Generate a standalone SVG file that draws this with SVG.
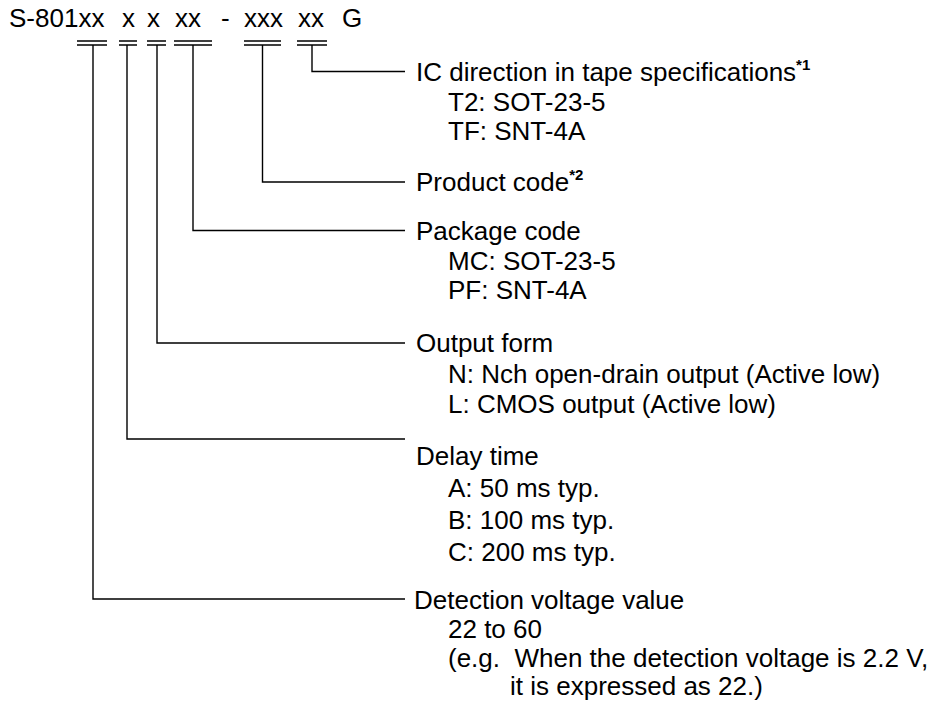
<svg xmlns="http://www.w3.org/2000/svg" width="950" height="711" viewBox="0 0 950 711">
<style>
text{font-family:"Liberation Sans",Arial,sans-serif;font-size:26px;fill:#000}
.sup{font-size:15px;font-weight:bold}
.ln{stroke:#000;stroke-width:1.4;fill:none}
</style>
<rect width="950" height="711" fill="#fff"/>
<g id="title">
<text y="27"><tspan x="9">S-801xx</tspan><tspan x="122">x</tspan><tspan x="147">x</tspan><tspan x="175">xx</tspan><tspan x="221">-</tspan><tspan x="244">xxx</tspan><tspan x="298">xx</tspan><tspan x="342">G</tspan></text>
</g>
<g id="connectors" class="ln">
<path d="M77 41H107M77 45H107M119 41H137M119 45H137M147 41H166M147 45H166M174 41H212M174 45H212M244 41H281M244 45H281M297 41H327M297 45H327"/>
<path d="M312 45V71.5H405"/>
<path d="M262.5 45V182H405"/>
<path d="M193 45V230.5H405"/>
<path d="M157 45V343H405"/>
<path d="M127 45V439H405"/>
<path d="M93 45V599H405"/>
</g>
<g id="ic-direction">
<text x="416" y="81">IC direction in tape specifications<tspan class="sup" dy="-11">*1</tspan></text>
<text x="448" y="111">T2: SOT-23-5</text>
<text x="448" y="140">TF: SNT-4A</text>
</g>
<g id="product-code">
<text x="416" y="191">Product code<tspan class="sup" dy="-11">*2</tspan></text>
</g>
<g id="package-code">
<text x="416" y="240">Package code</text>
<text x="448" y="270">MC: SOT-23-5</text>
<text x="448" y="299">PF: SNT-4A</text>
</g>
<g id="output-form">
<text x="416" y="352">Output form</text>
<text x="448" y="383">N: Nch open-drain output (Active low)</text>
<text x="448" y="413">L: CMOS output (Active low)</text>
</g>
<g id="delay-time">
<text x="416" y="465">Delay time</text>
<text x="448" y="497">A: 50 ms typ.</text>
<text x="448" y="529">B: 100 ms typ.</text>
<text x="448" y="561">C: 200 ms typ.</text>
</g>
<g id="detection-voltage">
<text x="414" y="609">Detection voltage value</text>
<text x="448" y="638">22 to 60</text>
<text x="448" y="667" xml:space="preserve">(e.g.  When the detection voltage is 2.2 V,</text>
<text x="510" y="695">it is expressed as 22.)</text>
</g>
</svg>
